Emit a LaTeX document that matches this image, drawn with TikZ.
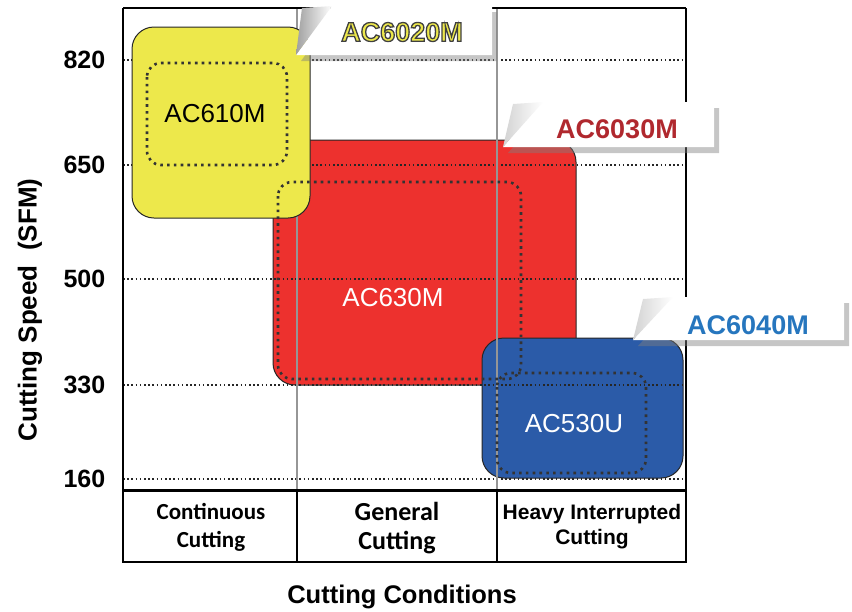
\documentclass[tikz,border=0pt]{standalone}
\usepackage{fontspec}
\setmainfont{Liberation Sans}
\newfontfamily\calibri{Carlito}
\usetikzlibrary{shadows,calc}
\definecolor{gelb}{RGB}{237,232,75}
\definecolor{rot}{RGB}{237,49,46}
\definecolor{blau}{RGB}{43,91,168}
\definecolor{dunkelrot}{RGB}{176,40,46}
\definecolor{hellblau}{RGB}{38,118,190}
\definecolor{gitter}{RGB}{150,150,150}
\newcommand\umriss[1]{\special{pdf:code 0.25 0.25 0.25 RG 2 Tr 1.3 w}#1\special{pdf:code 0 Tr}}
\tikzset{
  raster/.style={line width=1.6pt,dash pattern=on 1.6pt off 2.6pt,black!85},
  innen/.style={line width=2.6pt,dash pattern=on 2.6pt off 4.2pt,black!80,rounded corners=14pt},
  kasten/.style={draw=black!85,line width=1pt,rounded corners=22pt},
  sorte/.style={font=\fontsize{26}{30}\selectfont},
  fahne/.style={fill=white,drop shadow={shadow xshift=5pt,shadow yshift=-6pt,opacity=0.45}},
  fahnentext/.style={font=\bfseries\fontsize{27}{30}\selectfont}
}
\begin{document}
\begin{tikzpicture}[x=1pt,y=-1pt,thick]
\useasboundingbox (0,0) rectangle (852,611);
\def\links{123}
\def\rechts{686}
\def\oben{8}
\def\unten{490}
\def\tabunten{562}
\def\knick#1#2#3{
\shade[left color=gray!#3,right color=white] (#2) -- (#1) -- ($(#2)+(-30,2)$) -- cycle;
}

\draw[kasten,fill=rot] (273,140) rectangle (576,385);
\draw[kasten,fill=blau] (482,338) rectangle (683,478);

\foreach \y/\wert in {60/820,165/650,279/500,385/330,479/160}{
\draw[raster] (\links,\y) -- (\rechts,\y);
\node[anchor=east,font=\bfseries\fontsize{25}{28}\selectfont] (w\wert) at (109,\y) {\wert};
}
\draw[gitter,line width=2.5pt] (297,\oben) -- (297,\unten);
\draw[gitter,line width=2.5pt] (497,\oben) -- (497,\unten);

\draw[kasten,fill=gelb] (132,27) rectangle (310,218);

\draw[innen] (147,63) rectangle (287,165);
\draw[innen] (278,182) rectangle (521,379);
\draw[innen] (497,373) rectangle (646,473);

\node[sorte] (ac610) at (215,114) {AC610M};
\node[sorte,white] (ac630) at (393,298) {AC630M};
\node[sorte,white] (ac530) at (574,424) {AC530U};

\draw[line width=2.4pt] (\links,\oben) -- (\rechts,\oben);
\draw[line width=2.4pt] (\links,\oben) -- (\links,\tabunten) -- (\rechts,\tabunten) -- (\rechts,\oben);
\draw[line width=3pt] (\links,\unten) -- (\rechts,\unten);
\draw[line width=2.4pt] (297,\unten) -- (297,\tabunten);
\draw[line width=2.4pt] (497,\unten) -- (497,\tabunten);

\coordinate (f1a) at (296,55);
\coordinate (f1b) at (332,6);
\coordinate (f1c) at (492,6);
\coordinate (f1d) at (492,55);
\coordinate (f2a) at (503,147);
\coordinate (f2b) at (543,102);
\coordinate (f2c) at (714,102);
\coordinate (f2d) at (714,147);
\coordinate (f3a) at (633,340);
\coordinate (f3b) at (673,297);
\coordinate (f3c) at (844,297);
\coordinate (f3d) at (844,340);
\fill[fahne] (f1a) -- (f1b) -- (f1c) -- (f1d) -- cycle;
\knick{f1a}{f1b}{75}
\fill[fahne] (f2a) -- (f2b) -- (f2c) -- (f2d) -- cycle;
\knick{f2a}{f2b}{35}
\fill[fahne] (f3a) -- (f3b) -- (f3c) -- (f3d) -- cycle;
\knick{f3a}{f3b}{35}

\node[fahnentext,dunkelrot] (ac6030) at (617,129) {AC6030M};
\node[fahnentext,hellblau] (ac6040) at (748,325) {AC6040M};

\node[align=center,font=\calibri\bfseries\fontsize{23}{28}\selectfont] (dauer) at (211,527) {Continuous\\Cutting};
\node[align=center,font=\calibri\bfseries\fontsize{26}{29}\selectfont] (allgemein) at (397,528) {General\\Cutting};
\node[align=center,font=\bfseries\fontsize{21}{25}\selectfont] (unterbrochen) at (592,527) {Heavy Interrupted\\Cutting};

\node[font=\bfseries\fontsize{25.5}{28}\selectfont] (bedingungen) at (402,597) {Cutting Conditions};
\node[rotate=90,font=\bfseries\fontsize{26}{28}\selectfont] (geschw) at (30,310) {Cutting Speed\ \ (SFM)};

\node[fahnentext,gelb] (ac6020) at (402,32) {\umriss{AC6020M}};
\end{tikzpicture}
\end{document}
